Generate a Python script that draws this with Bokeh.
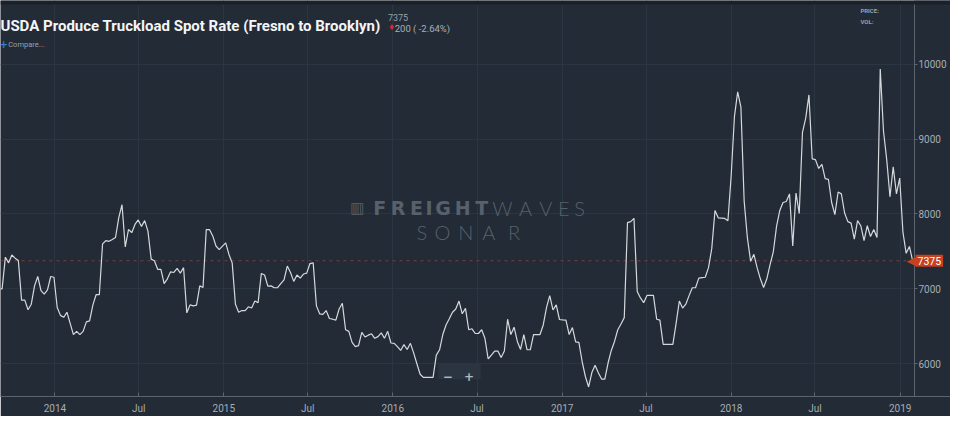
import pandas as pd
from bokeh.plotting import figure
from bokeh.models import Range1d, FixedTicker, Span, Label, BoxAnnotation
from bokeh.embed import file_html
from bokeh.resources import INLINE

# ---------------- data ----------------
first_week = "2013-09-02"
weekly_rate = [
    7000, 7000, 7423, 7347, 7452, 7410, 7380, 6850, 6850, 6722,
    6795, 7040, 7165, 6977, 6930, 6986, 7165, 7155, 6752, 6646,
    6620, 6688, 6540, 6390, 6433, 6390, 6433, 6560, 6573, 6782,
    6922, 6922, 7601, 7643, 7635, 7660, 7686, 7950, 8124, 7559,
    7792, 7750, 7860, 7920, 7834, 7911, 7771, 7397, 7376, 7261,
    7261, 7070, 7134, 7228, 7219, 7274, 7210, 7283, 6680, 6786,
    6773, 6782, 7040, 7019, 7792, 7792, 7707, 7572, 7525, 7570,
    7614, 7460, 7347, 6795, 6688, 6710, 6710, 6761, 6744, 6837,
    6816, 7206, 7185, 7036, 7040, 7015, 7015, 7070, 7121, 7304,
    7219, 7100, 7185, 7143, 7198, 7210, 7338, 7347, 6773, 6667,
    6659, 6710, 6604, 6595, 6582, 6731, 6807, 6454, 6433, 6285,
    6229, 6242, 6420, 6357, 6382, 6400, 6340, 6362, 6412, 6340,
    6433, 6277, 6273, 6229, 6178, 6255, 6191, 6273, 6146, 6000,
    5860, 5818, 5818, 5818, 5818, 6115, 6187, 6390, 6518, 6600,
    6688, 6731, 6837, 6667, 6739, 6454, 6467, 6404, 6404, 6454,
    6340, 6064, 6115, 6170, 6170, 6085, 6170, 6595, 6390, 6489,
    6298, 6191, 6390, 6187, 6187, 6390, 6390, 6390, 6518, 6750,
    6909, 6718, 6786, 6591, 6586, 6582, 6390, 6484, 6293, 6285,
    6030, 5830, 5690, 5882, 5980, 5880, 5796, 5796, 6010, 6178,
    6298, 6454, 6530, 6616, 7885, 7898, 7941, 6964, 6879, 6815,
    6913, 6913, 6913, 6595, 6582, 6260, 6260, 6260, 6260, 6540,
    6837, 6744, 6795, 6910, 7015, 7015, 7143, 7150, 7155, 7283,
    7537, 8047, 7949, 7945, 7941, 7911, 8514, 9299, 9631, 9427,
    8175, 7680, 7368, 7461, 7283, 7134, 7019, 7134, 7325, 7495,
    7834, 8047, 8153, 8166, 8268, 7572, 8280, 8005, 9088, 9279,
    9589, 8735, 8726, 8608, 8662, 8471, 8463, 8153, 7992, 8293,
    8268, 8013, 7898, 7878, 7665, 7911, 7843, 7643, 7843, 7699,
    7792, 7686, 9936, 9108, 8726, 8229, 8629, 8268, 8480, 7758,
    7474, 7567, 7375,
]
x_tick_dates = ["2014-01-01", "2014-07-01", "2015-01-01", "2015-07-01",
                "2016-01-01", "2016-07-01", "2017-01-01", "2017-07-01",
                "2018-01-01", "2018-07-01", "2019-01-01"]
x_tick_labels = ["2014", "Jul", "2015", "Jul", "2016", "Jul",
                 "2017", "Jul", "2018", "Jul", "2019"]
y_ticks = [6000, 7000, 8000, 9000, 10000]
last_rate = 7375
change_abs = 200
change_pct = -2.64
title_text = "USDA Produce Truckload Spot Rate (Fresno to Brooklyn)"

# ---------------- styling / layout ----------------
BG = "#222b36"
GRID = "#2b3643"
AXIS = "#5c656f"
TICKTXT = "#a7adb3"
LINE = "#d6d9dc"
WM = "#57616c"
FONT = "Roboto"
THIN = "Lato Light, Lato, DejaVu Sans"
TAG = "#c8401e"

FW, FH = 950, 396          # frame size (px)
AX = 914                   # pixel where the price axis sits inside the frame
SX, SY = AX / 946, FH / 415  # reference-pixel -> own-pixel scale
Y0, Y1 = 5563, 10850

view_start = pd.Timestamp("2013-09-05 12:00")
axis_date = pd.Timestamp("2019-02-01")
view_end = view_start + (axis_date - view_start) * (FW / AX)
axis_ms = axis_date.value // 10**6

p = figure(frame_width=FW, frame_height=FH, x_axis_type="datetime", y_axis_location="right",
           x_range=Range1d(view_start, view_end), y_range=Range1d(Y0, Y1),
           output_backend="svg", toolbar_location=None,
           min_border_left=0, min_border_top=0, min_border_bottom=0, min_border_right=0,
           background_fill_color=BG, border_fill_color=BG, outline_line_color=None)

dates = pd.date_range(first_week, periods=len(weekly_rate), freq="7D")

tick_ms = [int(pd.Timestamp(d).value // 10**6) for d in x_tick_dates]
p.xaxis.ticker = FixedTicker(ticks=tick_ms)
p.xaxis.major_label_overrides = {t: lab for t, lab in zip(tick_ms, x_tick_labels)}
p.xaxis.minor_tick_line_color = None
p.xaxis.major_tick_in = 4
p.xaxis.major_tick_out = 0
p.xaxis.axis_line_color = AXIS
p.xaxis.major_tick_line_color = AXIS
p.xaxis.major_label_text_color = TICKTXT
p.xaxis.major_label_text_font = FONT
p.xaxis.major_label_text_font_size = "10px"
p.xaxis.major_label_standoff = 6

# price axis: drawn at the axis date inside the frame; its numbers are placed next to it
p.yaxis.fixed_location = axis_ms
p.yaxis.ticker = FixedTicker(ticks=y_ticks)
p.yaxis.major_label_overrides = {t: "" for t in y_ticks}
p.yaxis.major_label_standoff = 0
p.yaxis.minor_tick_line_color = None
p.yaxis.major_tick_in = 0
p.yaxis.major_tick_out = 3
p.yaxis.axis_line_color = AXIS
p.yaxis.major_tick_line_color = AXIS

p.xgrid.ticker = FixedTicker(ticks=tick_ms)
p.ygrid.ticker = FixedTicker(ticks=y_ticks)
p.grid.grid_line_color = GRID
p.grid.grid_line_width = 1

# last price dashed line
p.add_layout(Span(location=last_rate, dimension="width", line_color="#7b3d3f",
                  line_dash="3 4", line_width=1, level="underlay"))

# label strip right of the price axis (hides grid / dashed line there)
p.add_layout(BoxAnnotation(left=axis_ms, fill_color=BG, fill_alpha=1, line_color=None,
                           level="glyph"))

# series
p.line(x=dates, y=weekly_rate, line_color=LINE, line_width=1.2)

# price-axis numbers
for t in y_ticks:
    p.add_layout(Label(x=axis_ms, y=t, x_offset=4, text=str(t), text_baseline="middle",
                       text_color=TICKTXT, text_font=FONT, text_font_size="10px"))

# price tag
p.add_layout(Label(x=axis_ms, y=last_rate, x_offset=-8, text="◀", text_baseline="middle",
                   text_color=TAG, text_font="DejaVu Sans", text_font_size="13px"))
p.add_layout(Label(x=axis_ms, y=last_rate, x_offset=1, text=str(last_rate),
                   text_baseline="middle", text_color="#ffffff", text_font=FONT,
                   text_font_size="10.5px", background_fill_color=TAG, padding=2))

# dark strip along the top edge
p.add_layout(BoxAnnotation(bottom=FH - 4, bottom_units="screen", fill_color="#1a2129",
                           fill_alpha=1, line_color=None))


def lab(rx, ry, text, size, color, font=FONT, style="normal", align="left"):
    """Place a text at reference-pixel position (rx, ry = baseline from top)."""
    p.add_layout(Label(x=rx * SX, y=FH - ry * SY, x_units="screen", y_units="screen",
                       text=text, text_font=font, text_font_size=size,
                       text_font_style=style, text_color=color, text_align=align,
                       text_baseline="alphabetic"))


# header
lab(0, 27, title_text, "15px", "#f4f5f6", style="bold")
lab(401, 18, str(last_rate), "9px", "#9ba1a7")
lab(401, 28, "♦", "8px", "#e0222e", font="DejaVu Sans")
lab(408, 29, f"{change_abs} ( {change_pct:.2f}%)", "9.5px", "#aab0b6")
lab(-1, 46, "+", "10px", "#2f7fe0", font="DejaVu Sans", style="bold")
lab(8, 46, "Compare...", "7.5px", "#9ba1a7")
lab(890, 11, "PRICE:", "6px", "#9ba1a7", style="bold")
lab(890, 22, "VOL:", "6px", "#9ba1a7", style="bold")

# watermark
lab(362, 217, "▥", "15px", WM, font="DejaVu Sans")
for cx, ch in zip([392.5, 411.5, 430.5, 443.5, 458, 478.5, 498], "FREIGHT"):
    lab(cx, 217, ch, "19px", WM, font="DejaVu Sans", style="bold", align="center")
for cx, ch in zip([519.5, 543.5, 564.5, 583, 599.5], "WAVES"):
    lab(cx, 217, ch, "20px", WM, font=THIN, align="center")
for cx, ch in zip([436, 457.5, 481.5, 505.5, 531.5], "SONAR"):
    lab(cx, 243, ch, "20px", WM, font=THIN, align="center")

# zoom buttons
p.add_layout(BoxAnnotation(left=453 * SX, right=497 * SX, bottom=FH - 397 * SY,
                           top=FH - 381 * SY,
                           left_units="screen", right_units="screen",
                           top_units="screen", bottom_units="screen",
                           fill_color="#2b3541", fill_alpha=1, line_color=None))
lab(463, 394, "−", "12px", "#b3b8bd", font="DejaVu Sans", align="center", style="bold")
lab(485, 394, "+", "12px", "#b3b8bd", font="DejaVu Sans", align="center", style="bold")

open("out.html", "w").write(file_html(p, INLINE))
